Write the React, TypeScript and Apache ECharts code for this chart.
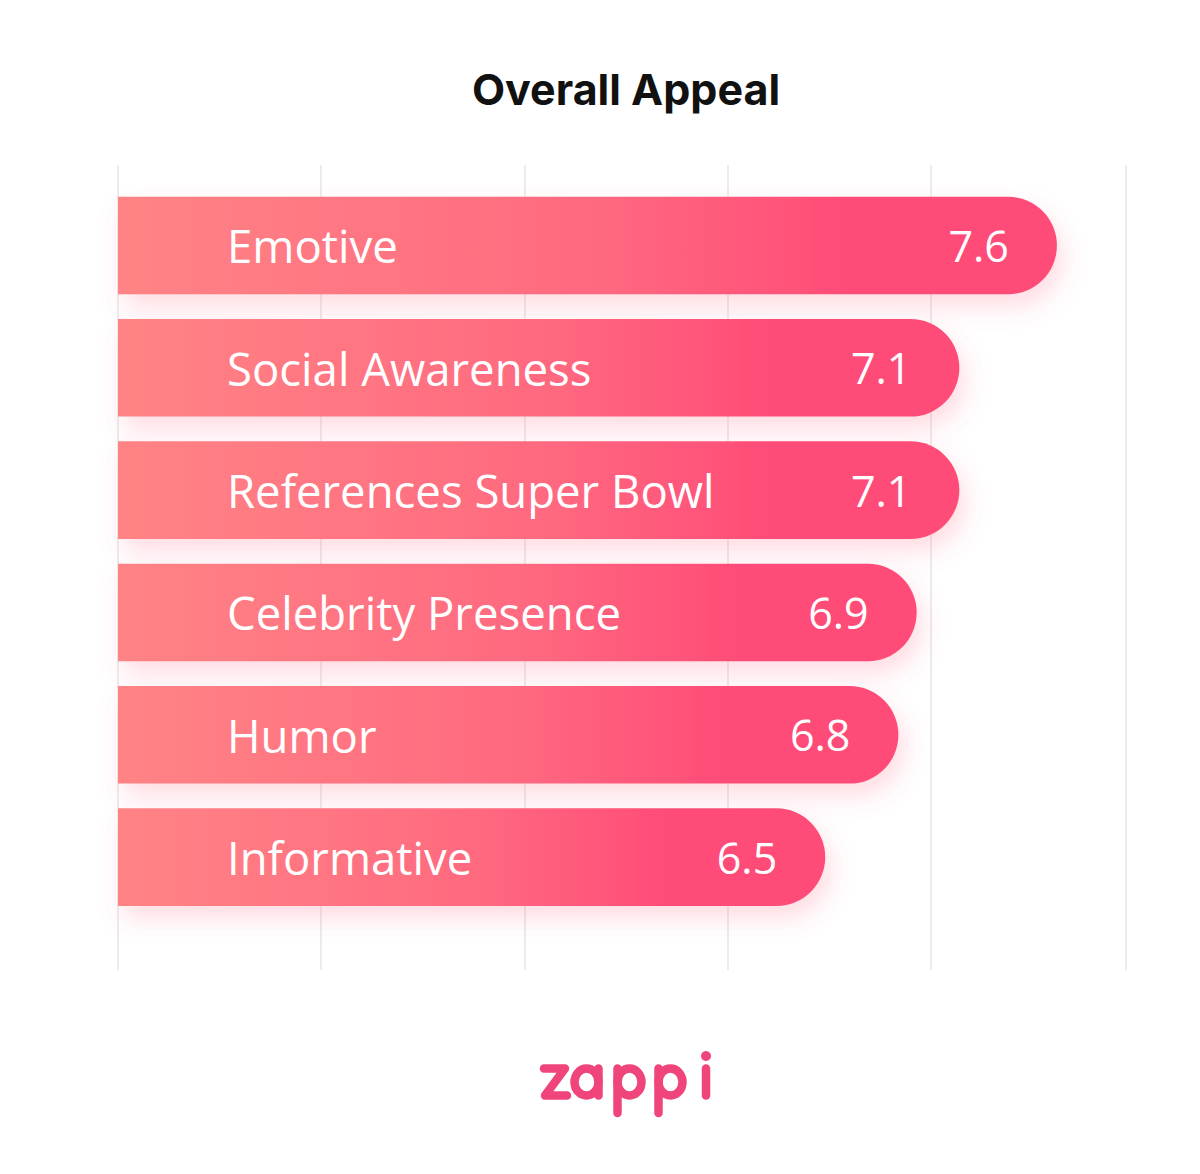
import React, { useEffect, useRef } from "react";
import * as echarts from "echarts";

const categories = [
  "Emotive",
  "Social Awareness",
  "References Super Bowl",
  "Celebrity Presence",
  "Humor",
  "Informative",
];
const scores = [7.62, 7.14, 7.14, 6.93, 6.84, 6.48];
const axisMin = 3;
const axisMax = 7.96;
const axisStep = 1;
const titleText = "Overall Appeal";
const brandText = "zappi";

const PINK = "#F0457A";

export default function App() {
  const ref = useRef<HTMLDivElement>(null);
  useEffect(() => {
    if (!ref.current) return;
    const chart = echarts.init(ref.current, undefined, { renderer: "svg" });
    const sw = 8.5;
    const logoStyle = {
      fill: "none",
      stroke: PINK,
      lineWidth: sw,
      lineCap: "round",
      lineJoin: "round",
    };
    const cy = 1082;
    const rx = 12;
    const ry = 13.5;
    const top = cy - ry;
    const bot = cy + ry;
    const option: any = {
      animation: false,
      backgroundColor: "#ffffff",
      grid: [
        { left: 118, width: 1008, top: 184.3, height: 734, containLabel: false },
        { left: 118, width: 1008, top: 165, height: 805, containLabel: false },
      ],
      xAxis: [
        {
          type: "value",
          gridIndex: 0,
          min: axisMin,
          max: axisMax,
          interval: axisStep,
          show: false,
          splitLine: { show: false },
        },
        {
          type: "value",
          gridIndex: 1,
          min: axisMin,
          max: axisMax,
          interval: axisStep,
          axisLabel: { show: false },
          axisLine: { show: false },
          axisTick: { show: false },
          splitLine: { show: true, lineStyle: { color: "#E6E6E6", width: 1.5 } },
        },
      ],
      yAxis: [
        {
          type: "category",
          gridIndex: 0,
          data: categories,
          inverse: true,
          z: 10,
          axisLine: { show: false },
          axisTick: { show: false },
          splitLine: { show: false },
          axisLabel: {
            inside: true,
            margin: 109,
            color: "#ffffff",
            fontSize: 45.5,
            fontFamily: "Open Sans",
          },
        },
        { type: "value", gridIndex: 1, min: 0, max: 1, show: false },
      ],
      graphic: [
        {
          type: "text",
          x: 626,
          y: 89,
          style: {
            text: titleText,
            fill: "#111111",
            font: "bold 43px Inter",
            align: "center",
            verticalAlign: "middle",
          },
        },
        {
          type: "group",
          name: brandText,
          children: [
            {
              type: "polyline",
              shape: { points: [[544, top], [565, top], [545, bot], [567, bot]] },
              style: logoStyle,
            },
            { type: "ellipse", shape: { cx: 586.5, cy, rx, ry }, style: logoStyle },
            { type: "line", shape: { x1: 598.5, y1: top, x2: 598.5, y2: bot }, style: logoStyle },
            { type: "ellipse", shape: { cx: 629.5, cy, rx, ry }, style: logoStyle },
            { type: "line", shape: { x1: 617.5, y1: top, x2: 617.5, y2: 1113 }, style: logoStyle },
            { type: "ellipse", shape: { cx: 670.5, cy, rx, ry }, style: logoStyle },
            { type: "line", shape: { x1: 658.5, y1: top, x2: 658.5, y2: 1113 }, style: logoStyle },
            { type: "line", shape: { x1: 706, y1: top, x2: 706, y2: bot }, style: logoStyle },
            { type: "circle", shape: { cx: 706, cy: 1056, r: 5 }, style: { fill: PINK } },
          ],
        },
      ],
      series: [
        {
          type: "bar",
          xAxisIndex: 0,
          yAxisIndex: 0,
          data: scores,
          barWidth: 97.6,
          silent: true,
          itemStyle: {
            color: new echarts.graphic.LinearGradient(0, 0, 1, 0, [
              { offset: 0, color: "#FF8385" },
              { offset: 0.5, color: "#FF6A80" },
              { offset: 0.78, color: "#FF4C78" },
              { offset: 1, color: "#FF4C78" },
            ]),
            borderRadius: [0, 49, 49, 0],
            shadowColor: "rgba(255, 90, 120, 0.22)",
            shadowBlur: 24,
            shadowOffsetX: 6,
            shadowOffsetY: 12,
          },
          label: {
            show: true,
            position: "insideRight",
            distance: 48,
            color: "#ffffff",
            fontSize: 43,
            fontFamily: "Open Sans",
            formatter: (p: any) => Number(p.value).toFixed(1),
          },
        },
      ],
    };
    chart.setOption(option);
    return () => chart.dispose();
  }, []);
  return (
    <div
      ref={ref}
      style={{ position: "fixed", left: 0, top: 0, width: 1200, height: 1174 }}
    />
  );
}
